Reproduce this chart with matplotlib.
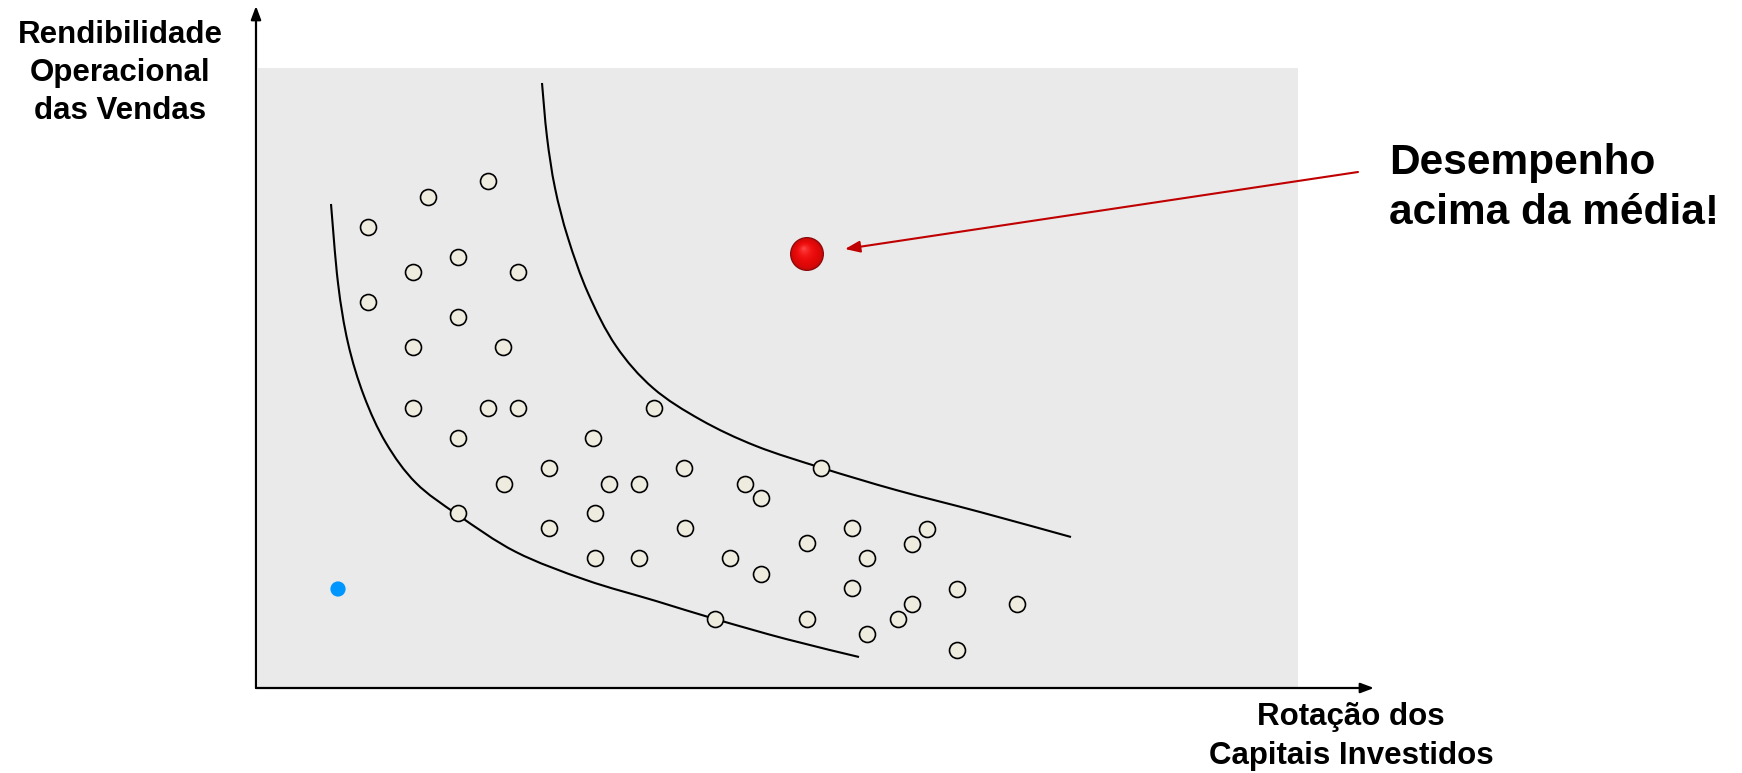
import matplotlib
matplotlib.use('agg')
import matplotlib.pyplot as plt
from matplotlib.patches import Rectangle, PathPatch
from matplotlib.path import Path

plt.rcParams['font.family'] = ['Liberation Sans', 'DejaVu Sans']

# Empresas (rotação dos capitais, rendibilidade operacional)
rot = [1.12, 1.72, 2.32, 1.57, 2.02, 2.62, 1.12, 2.02, 1.57, 2.47,
       1.57, 2.32, 2.62, 2.02, 3.98, 3.37, 2.48, 2.93, 3.53, 3.83,
       4.28, 4.89, 5.05, 5.65, 2.02, 2.93, 3.39, 4.29, 3.39, 3.83,
       4.74, 5.05, 5.51, 5.96, 6.11, 6.56, 6.71, 5.96, 7.01, 7.61,
       6.56, 6.42, 5.51, 6.11, 7.01, 4.59]
rend = [4.61, 4.91, 5.07, 4.16, 4.31, 4.16, 3.86, 3.71, 3.41, 3.41,
        2.80, 2.80, 2.80, 2.50, 2.80, 2.50, 2.04, 2.20, 2.04, 2.04,
        2.20, 2.04, 1.90, 2.20, 1.75, 1.60, 1.75, 1.60, 1.30, 1.30,
        1.30, 1.14, 1.45, 1.60, 1.30, 1.44, 1.59, 1.00, 0.99, 0.84,
        0.84, 0.69, 0.69, 0.54, 0.38, 0.69]

# curvas de iso-rendibilidade
low_x = [0.75, 0.82, 0.92, 1.08, 1.30, 1.60, 2.02, 2.60, 3.30, 4.00, 4.59, 5.30, 6.03]
low_y = [4.84, 4.05, 3.45, 2.92, 2.45, 2.05, 1.73, 1.36, 1.08, 0.87, 0.69, 0.49, 0.31]
high_x = [2.86, 2.91, 2.99, 3.12, 3.32, 3.60, 3.97, 4.45, 5.00, 5.66, 6.40, 7.24, 8.15]
high_y = [6.05, 5.51, 5.00, 4.50, 3.95, 3.42, 3.00, 2.68, 2.42, 2.20, 1.98, 1.76, 1.51]

star = (5.51, 4.34)     # desempenho acima da média
blue = (0.82, 0.99)


def smooth_path(xs, ys):
    # Catmull-Rom through the read points, as cubic Bezier segments
    pts = list(zip(xs, ys))
    verts = [pts[0]]
    codes = [Path.MOVETO]
    for i in range(len(pts) - 1):
        p0 = pts[i - 1] if i > 0 else pts[i]
        p1 = pts[i]
        p2 = pts[i + 1]
        p3 = pts[i + 2] if i + 2 < len(pts) else pts[i + 1]
        c1 = (p1[0] + (p2[0] - p0[0]) / 6, p1[1] + (p2[1] - p0[1]) / 6)
        c2 = (p2[0] - (p3[0] - p1[0]) / 6, p2[1] - (p3[1] - p1[1]) / 6)
        verts += [c1, c2, p2]
        codes += [Path.CURVE4] * 3
    return Path(verts, codes)


fig = plt.figure(figsize=(17.42, 7.73), dpi=100)
ax = fig.add_axes([0, 0, 1, 1])
ax.set_xlim(-2.56, 14.86)
ax.set_ylim(-0.85, 6.88)
ax.axis('off')

# fundo cinzento
ax.add_patch(Rectangle((0.02, 0.01), 10.40, 6.19, fc='#eaeaea', ec='none', zorder=0))

# eixos com setas
ax.annotate('', xy=(11.18, 0), xytext=(0, 0),
            arrowprops=dict(arrowstyle='-|>,head_length=0.8,head_width=0.3', color='black',
                            lw=1.6, shrinkA=0, shrinkB=0), zorder=3)
ax.annotate('', xy=(0, 6.82), xytext=(0, 0),
            arrowprops=dict(arrowstyle='-|>,head_length=0.8,head_width=0.3', color='black',
                            lw=1.6, shrinkA=0, shrinkB=0), zorder=3)

for xs, ys in [(low_x, low_y), (high_x, high_y)]:
    ax.add_patch(PathPatch(smooth_path(xs, ys), fc='none', ec='black', lw=1.5, zorder=2))

ax.scatter(rot, rend, s=132, facecolor='#eeebdf', edgecolor='black', linewidths=1.2, zorder=4)

ax.scatter([blue[0]], [blue[1]], s=120, color='#0096ff', edgecolor='none', zorder=4)

# esfera vermelha com brilho
ax.scatter([star[0]], [star[1]], s=600, color='#8a0a0a', edgecolor='none', zorder=5)
n = 14
for i in range(n):
    f = 1 - i / n
    col = (min(1, 0.78 + 0.22 * (1 - f) ** 0.5), 0.03 + 0.30 * (1 - f) ** 3, 0.03 + 0.30 * (1 - f) ** 3)
    off = 0.035 * (1 - f)
    ax.scatter([star[0] - off], [star[1] + off * 1.7], s=520 * f ** 2, color=col,
               edgecolor='none', zorder=5)

ax.annotate('', xy=(5.89, 4.39), xytext=(11.02, 5.16),
            arrowprops=dict(arrowstyle='-|>,head_length=0.9,head_width=0.35', color='#c00000',
                            lw=1.5, shrinkA=0, shrinkB=0), zorder=5)

ax.text(-1.36, 6.15, 'Rendibilidade\nOperacional\ndas Vendas', ha='center', va='center',
        fontsize=22.5, fontweight='bold', linespacing=1.35)
ax.text(10.95, -0.485, 'Rotação dos\nCapitais Investidos', ha='center', va='center',
        fontsize=22.5, fontweight='bold', linespacing=1.35)
ax.text(11.33, 5.00, 'Desempenho\nacima da média!', ha='left', va='center',
        fontsize=30.5, fontweight='bold', linespacing=1.35)

fig.savefig('out.png', dpi=100)
